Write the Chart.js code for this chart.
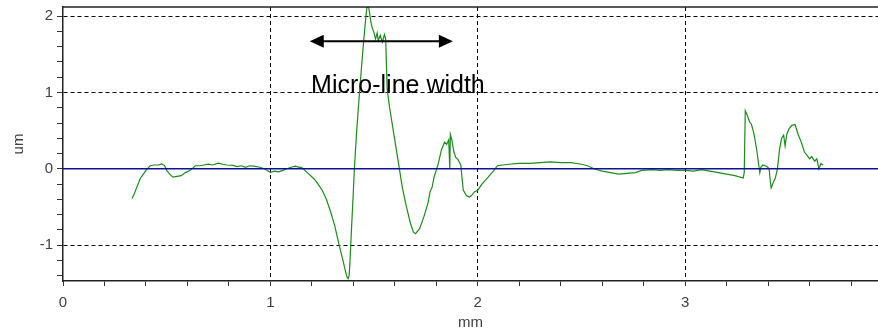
<!DOCTYPE html>
<html>
<head>
<meta charset="utf-8">
<script src="https://cdn.jsdelivr.net/npm/chart.js@4.4.0/dist/chart.umd.min.js"></script>
<style>
  html, body { margin: 0; padding: 0; background: #fff; }
  #wrap { width: 878px; height: 333px; }
</style>
</head>
<body>
<div id="wrap"><canvas id="profile-chart"></canvas></div>
<script>
// Perfil medido (mm -> um)
const posMm = [
  0.333, 0.345, 0.356, 0.365, 0.372, 0.385, 0.40, 0.41, 0.42, 0.44, 0.46, 0.476, 0.49, 0.50, 0.515, 0.53, 0.55, 0.57, 0.59, 0.614, 0.638,
  0.66, 0.68, 0.70, 0.72, 0.75, 0.77, 0.79, 0.82, 0.84, 0.86, 0.88, 0.90, 0.92, 0.95, 0.97, 1.00, 1.02, 1.04, 1.06, 1.08, 1.10, 1.12, 1.14,
  1.15, 1.17, 1.19, 1.21, 1.23, 1.25, 1.27, 1.29, 1.31, 1.33, 1.35, 1.36, 1.37, 1.375, 1.38, 1.385, 1.39, 1.40, 1.405, 1.415, 1.427, 1.44,
  1.45, 1.46, 1.467, 1.475, 1.485, 1.49, 1.50, 1.507, 1.515, 1.52, 1.53, 1.54, 1.55, 1.556, 1.563, 1.575, 1.595, 1.615, 1.636, 1.656,
  1.676, 1.69, 1.70, 1.72, 1.74, 1.76, 1.77, 1.78, 1.79, 1.80, 1.81, 1.825, 1.84, 1.85, 1.86, 1.865, 1.868, 1.875, 1.885, 1.894, 1.905,
  1.918, 1.93, 1.945, 1.96, 1.97, 1.985, 2.0, 2.02, 2.05, 2.075, 2.095, 2.12, 2.15, 2.2, 2.25, 2.3, 2.35, 2.40, 2.45, 2.50, 2.53, 2.56,
  2.60, 2.64, 2.68, 2.72, 2.76, 2.79, 2.84, 2.88, 2.92, 2.96, 3.0, 3.04, 3.08, 3.12, 3.16, 3.20, 3.24, 3.28, 3.285, 3.29, 3.30, 3.31,
  3.32, 3.33, 3.335, 3.345, 3.355, 3.36, 3.365, 3.375, 3.385, 3.395, 3.405, 3.41, 3.415, 3.425, 3.435, 3.445, 3.455, 3.465, 3.475,
  3.482, 3.49, 3.50, 3.515, 3.53, 3.545, 3.56, 3.575, 3.59, 3.60, 3.61, 3.625, 3.635, 3.645, 3.655, 3.665
];
const heightUm = [
  -0.39, -0.32, -0.24, -0.18, -0.13, -0.08, -0.02, 0.01, 0.04, 0.05, 0.05, 0.065, 0.04, -0.02, -0.07, -0.11, -0.10, -0.09, -0.05, -0.02, 0.04,
  0.04, 0.05, 0.06, 0.05, 0.075, 0.06, 0.05, 0.045, 0.03, 0.04, 0.02, 0.04, 0.035, 0.02, 0.0, -0.045, -0.03, -0.04, -0.02, 0.0, 0.02, 0.035, 0.02,
  0.02, -0.03, -0.08, -0.13, -0.20, -0.28, -0.40, -0.56, -0.74, -0.98, -1.20, -1.32, -1.42, -1.44, -1.40, -1.15, -0.85, -0.30, 0.0, 0.45, 0.90, 1.35,
  1.68, 1.98, 2.15, 2.10, 1.92, 1.86, 1.78, 1.70, 1.78, 1.68, 1.75, 1.66, 1.76, 1.70, 1.05, 0.80, 0.46, 0.12, -0.24, -0.50,
  -0.72, -0.83, -0.85, -0.78, -0.63, -0.45, -0.30, -0.24, -0.10, -0.02, 0.07, 0.25, 0.35, 0.32, 0.38, 0.0, 0.45, 0.38, 0.22, 0.15, 0.12,
  0.05, -0.28, -0.35, -0.37, -0.35, -0.30, -0.28, -0.20, -0.11, -0.03, 0.04, 0.05, 0.06, 0.07, 0.07, 0.08, 0.09, 0.08, 0.08, 0.06, 0.04, 0.0,
  -0.03, -0.05, -0.07, -0.06, -0.05, -0.02, -0.01, -0.02, -0.01, -0.02, -0.02, -0.03, -0.01, -0.03, -0.05, -0.07, -0.09, -0.12, -0.05, 0.76, 0.70, 0.62,
  0.58, 0.48, 0.41, 0.25, 0.05, -0.05, 0.02, 0.05, 0.04, 0.03, 0.0, -0.15, -0.25, -0.18, -0.12, 0.0, 0.25, 0.40, 0.44,
  0.30, 0.45, 0.52, 0.57, 0.58, 0.45, 0.35, 0.22, 0.17, 0.13, 0.16, 0.10, 0.13, 0.0, 0.07, 0.05
];

// Línea de referencia (cero) y ejes
const zeroLineX = [0, 3.93];
const xRange = [0, 3.93];
const yRange = [-1.47, 2.12];

// Anotación "Micro-line width"
const arrowFromTo = [1.19, 1.88];
const arrowLevel = 1.67;
const noteText = "Micro-line width";
const notePos = [1.615, 1.08];

const textColor = "#404040";

const profilePoints = posMm.map((x, i) => ({ x: x, y: heightUm[i] }));
const zeroPoints = zeroLineX.map(x => ({ x: x, y: 0 }));

function isWhole(v) {
  return Math.abs(v - Math.round(v)) < 1e-6;
}

// Borde superior del área y la flecha con el texto.
const annotationPlugin = {
  id: "annotation",
  afterDatasetsDraw(chart) {
    const { ctx, chartArea, scales } = chart;
    ctx.save();
    ctx.strokeStyle = "#222";
    ctx.lineWidth = 1.5;
    ctx.beginPath();
    ctx.moveTo(chartArea.left, chartArea.top);
    ctx.lineTo(chartArea.right, chartArea.top);
    ctx.stroke();

    const x1 = scales.x.getPixelForValue(arrowFromTo[0]);
    const x2 = scales.x.getPixelForValue(arrowFromTo[1]);
    const y = scales.y.getPixelForValue(arrowLevel);
    const head = 14;
    const half = 6.5;
    ctx.strokeStyle = "#000";
    ctx.fillStyle = "#000";
    ctx.lineWidth = 2;
    ctx.beginPath();
    ctx.moveTo(x1 + head - 2, y);
    ctx.lineTo(x2 - head + 2, y);
    ctx.stroke();
    ctx.beginPath();
    ctx.moveTo(x1, y);
    ctx.lineTo(x1 + head, y - half);
    ctx.lineTo(x1 + head, y + half);
    ctx.closePath();
    ctx.fill();
    ctx.beginPath();
    ctx.moveTo(x2, y);
    ctx.lineTo(x2 - head, y - half);
    ctx.lineTo(x2 - head, y + half);
    ctx.closePath();
    ctx.fill();

    ctx.font = "25px 'Liberation Sans', Arial, sans-serif";
    ctx.textAlign = "center";
    ctx.textBaseline = "middle";
    ctx.fillText(noteText, scales.x.getPixelForValue(notePos[0]), scales.y.getPixelForValue(notePos[1]));
    ctx.restore();
  },
};

const ctx = document.getElementById("profile-chart").getContext("2d");

new Chart(ctx, {
  type: "scatter",
  data: {
    datasets: [
      {
        label: "cero",
        data: zeroPoints,
        showLine: true,
        borderColor: "#10109a",
        borderWidth: 1.5,
        pointRadius: 0,
      },
      {
        label: "perfil",
        data: profilePoints,
        showLine: true,
        borderColor: "#1b8c1b",
        borderWidth: 1.2,
        pointRadius: 0,
        tension: 0,
      },
    ],
  },
  options: {
    responsive: true,
    maintainAspectRatio: false,
    animation: false,
    layout: { padding: { top: 7, right: 0, left: 0, bottom: 0 } },
    plugins: {
      legend: { display: false },
      tooltip: { enabled: false },
    },
    scales: {
      x: {
        type: "linear",
        min: xRange[0],
        max: xRange[1],
        afterFit: scale => {
          scale.height = 52;
          scale.paddingLeft = 0;
          scale.paddingRight = 0;
        },
        ticks: {
          stepSize: 0.2,
          autoSkip: false,
          includeBounds: false,
          maxRotation: 0,
          padding: 8,
          color: textColor,
          font: { family: "'Liberation Sans', Arial, sans-serif", size: 15 },
          callback: v => (isWhole(v) ? String(Math.round(v)) : ""),
        },
        grid: {
          color: c => (c.tick && isWhole(c.tick.value) && c.tick.value !== 0 ? "#000" : "rgba(0,0,0,0)"),
          lineWidth: 1,
          tickColor: "#333",
          tickLength: 5,
          tickBorderDash: [],
        },
        border: { display: true, color: "#222", width: 1.5, dash: [4, 3] },
        title: {
          display: true,
          text: "mm",
          color: textColor,
          font: { family: "'Liberation Sans', Arial, sans-serif", size: 15 },
          padding: { top: 0, bottom: 1 },
        },
      },
      y: {
        type: "linear",
        min: yRange[0],
        max: yRange[1],
        afterFit: scale => {
          scale.width = 63;
          scale.paddingTop = 0;
          scale.paddingBottom = 0;
        },
        ticks: {
          stepSize: 0.2,
          autoSkip: false,
          includeBounds: false,
          padding: 4,
          color: textColor,
          font: { family: "'Liberation Sans', Arial, sans-serif", size: 15 },
          callback: v => (isWhole(v) ? String(Math.round(v)) : ""),
        },
        grid: {
          color: c => (c.tick && isWhole(c.tick.value) ? "#000" : "rgba(0,0,0,0)"),
          lineWidth: 1,
          tickColor: "#333",
          tickLength: 6,
          tickBorderDash: [],
        },
        border: { display: true, color: "#222", width: 1.5, dash: [4, 3] },
        title: {
          display: true,
          text: "um",
          color: textColor,
          font: { family: "'Liberation Sans', Arial, sans-serif", size: 15 },
          padding: { top: 10, bottom: 0 },
        },
      },
    },
  },
  plugins: [annotationPlugin],
});
</script>
</body>
</html>
